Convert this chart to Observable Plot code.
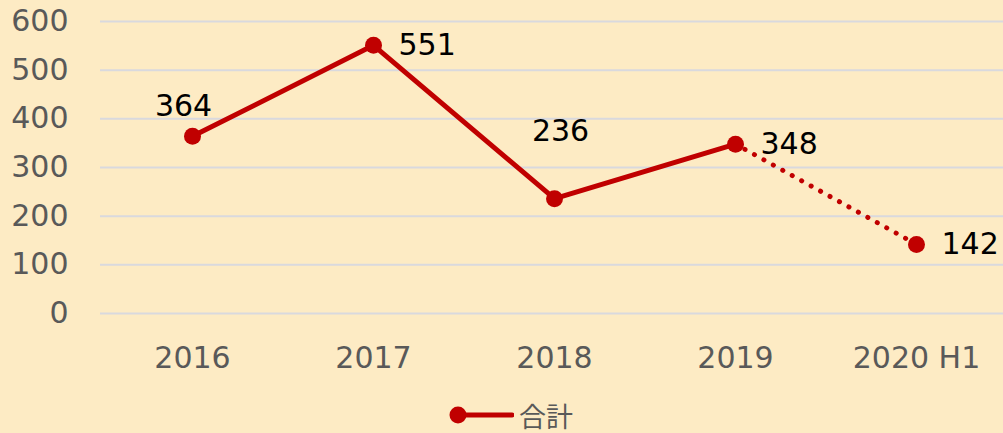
<!DOCTYPE html>
<html>
<head>
<meta charset="utf-8">
<script src="https://cdn.jsdelivr.net/npm/d3@7"></script>
<script src="https://cdn.jsdelivr.net/npm/@observablehq/plot@0.6"></script>
<style>
  html, body { margin: 0; padding: 0; background: #FDEBC4; width: 1003px; height: 433px; overflow: hidden; }
  #chart { position: absolute; left: 0; top: 0; }
  #legend { position: absolute; left: 0; top: 395px; width: 1003px; height: 38px; }
  #legend .item { position: absolute; left: 448px; top: 8px; display: flex; align-items: center; height: 24px; }
  #legend .label { font-family: "Noto Sans CJK JP", "Noto Sans", sans-serif; font-size: 27px; color: #595959; margin-left: 5px; line-height: 1; }
</style>
</head>
<body>
<div id="chart"></div>
<div id="legend"></div>
<script>
const categories = ["2016", "2017", "2018", "2019", "2020 H1"];
const totals = [364, 551, 236, 348, 142];
const yTicks = [0, 100, 200, 300, 400, 500, 600];
const seriesName = "合計";
const actualCats = ["2016", "2017", "2018", "2019"];
const projectedCats = ["2019", "2020 H1"];

const red = "#C00000";
const data = categories.map((c, i) => ({cat: c, value: totals[i]}));
const solid = data.filter(d => actualCats.includes(d.cat));
const dotted = data.filter(d => projectedCats.includes(d.cat));
const labelsRight = data.filter(d => ["2017", "2019", "2020 H1"].includes(d.cat));
const labelsUpLeft = data.filter(d => d.cat === "2016");
const labelsUp = data.filter(d => d.cat === "2018");

const font = 30;
const chart = Plot.plot({
  width: 1003,
  height: 395,
  marginLeft: 100,
  marginRight: 0,
  marginTop: 21,
  marginBottom: 82,
  style: {background: "transparent", color: "#595959", fontFamily: "DejaVu Sans, Verdana, sans-serif"},
  x: {type: "point", domain: categories, range: [191, 917], padding: 0},
  y: {domain: [0, 600]},
  marks: [
    Plot.gridY(yTicks, {stroke: "#D9D9DE", strokeOpacity: 1, strokeWidth: 2}),
    Plot.axisY(yTicks, {tickSize: 0, tickPadding: 32, fontSize: font, label: null}),
    Plot.axisX({tickSize: 0, tickPadding: 33, fontSize: font, label: null}),
    Plot.line(solid, {x: "cat", y: "value", stroke: red, strokeWidth: 5, strokeLinejoin: "round"}),
    Plot.line(dotted, {x: "cat", y: "value", stroke: red, strokeWidth: 5, strokeDasharray: "0.1 10.7", strokeLinecap: "round"}),
    Plot.dot(data, {x: "cat", y: "value", r: 8.5, fill: red, stroke: "none"}),
    Plot.text(labelsRight, {x: "cat", y: "value", text: d => String(d.value), dx: 25, textAnchor: "start", fontSize: font, fill: "black"}),
    Plot.text(labelsUpLeft, {x: "cat", y: "value", text: d => String(d.value), dx: -9, dy: -30, fontSize: font, fill: "black"}),
    Plot.text(labelsUp, {x: "cat", y: "value", text: d => String(d.value), dx: 6, dy: -67, fontSize: font, fill: "black"})
  ]
});
document.getElementById("chart").appendChild(chart);

const legend = document.getElementById("legend");
const item = document.createElement("div");
item.className = "item";
item.innerHTML = `<svg width="66" height="24" viewBox="0 0 66 24"><line x1="10" y1="12" x2="64" y2="12" stroke="${red}" stroke-width="5" stroke-linecap="round"/><circle cx="10" cy="12" r="8.5" fill="${red}"/></svg><span class="label"></span>`;
item.querySelector(".label").textContent = seriesName;
legend.appendChild(item);
</script>
</body>
</html>
